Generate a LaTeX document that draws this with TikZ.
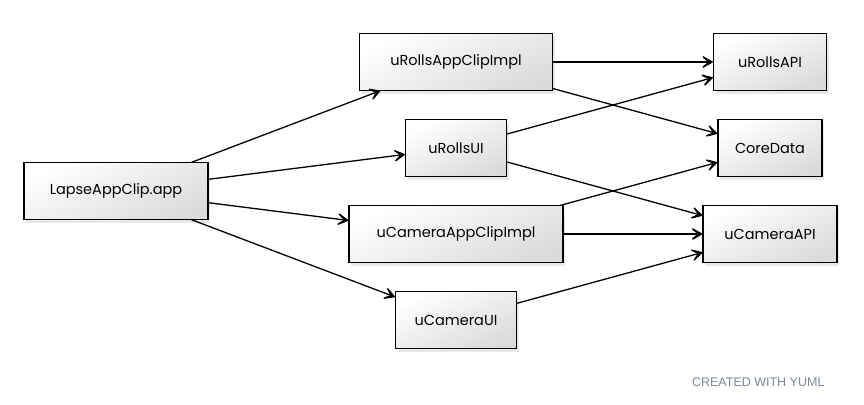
\documentclass[tikz,border=0pt]{standalone}
\usepackage{fontspec}
\setmainfont{Poppins}
\newfontfamily\yumlfont{Liberation Sans}
\usetikzlibrary{arrows.meta,positioning,shadows}
\definecolor{footgrey}{RGB}{122,136,152}
\tikzset{
    %Define standard arrow tip
    >={Stealth[length=16pt,width=18pt,inset=10.5pt]},
    %Define style for module boxes
    modul/.style={
           rectangle,
           draw=black,
           line width=1.3pt,
           outer sep=0pt,
           top color=white,
           bottom color=black!14,
           shading angle=25,
           drop shadow={opacity=0.18,shadow xshift=2pt,shadow yshift=-3pt},
           minimum height=57pt,
           font=\fontsize{14.5}{17}\selectfont},
    % Define arrow style
    pil/.style={
           ->,
           line width=1.3pt}
}
\begin{document}
\begin{tikzpicture}[x=1pt, y=-1pt, node distance=29pt]
  \useasboundingbox (0,0) rectangle (864,404);
  \node[modul,minimum width=184pt] (app) at (116,191) {LapseAppClip.app};
  % middle column
  \node[modul,minimum width=193pt] (rollsimpl) at (456,62) {uRollsAppClipImpl};
  \node[modul,minimum width=101pt,below=of rollsimpl] (rollsui) {uRollsUI};
  \node[modul,minimum width=214pt,below=of rollsui] (cameraimpl) {uCameraAppClipImpl};
  \node[modul,minimum width=121pt,below=of cameraimpl] (cameraui) {uCameraUI};
  % right column
  \node[modul,minimum width=113pt] (rollsapi) at (770,62) {uRollsAPI};
  \node[modul,minimum width=104pt,below=of rollsapi] (coredata) {CoreData};
  \node[modul,minimum width=134pt,below=of coredata] (cameraapi) {uCameraAPI};
  % dependencies
  \draw[pil] (app) -- (rollsimpl);
  \draw[pil] (app) -- (rollsui);
  \draw[pil] (app) -- (cameraimpl);
  \draw[pil] (app) -- (cameraui);
  \draw[pil] (rollsimpl) -- (rollsapi);
  \draw[pil] (rollsimpl) -- (coredata);
  \draw[pil] (rollsui) -- (rollsapi);
  \draw[pil] (rollsui) -- (cameraapi);
  \draw[pil] (cameraimpl) -- (coredata);
  \draw[pil] (cameraimpl) -- (cameraapi);
  \draw[pil] (cameraui) -- (cameraapi);
  \node[anchor=base east,text=footgrey,font=\yumlfont\fontsize{12.5}{14}\selectfont] (yuml) at (828,386) {CREATED WITH YUML};
\end{tikzpicture}
\end{document}
